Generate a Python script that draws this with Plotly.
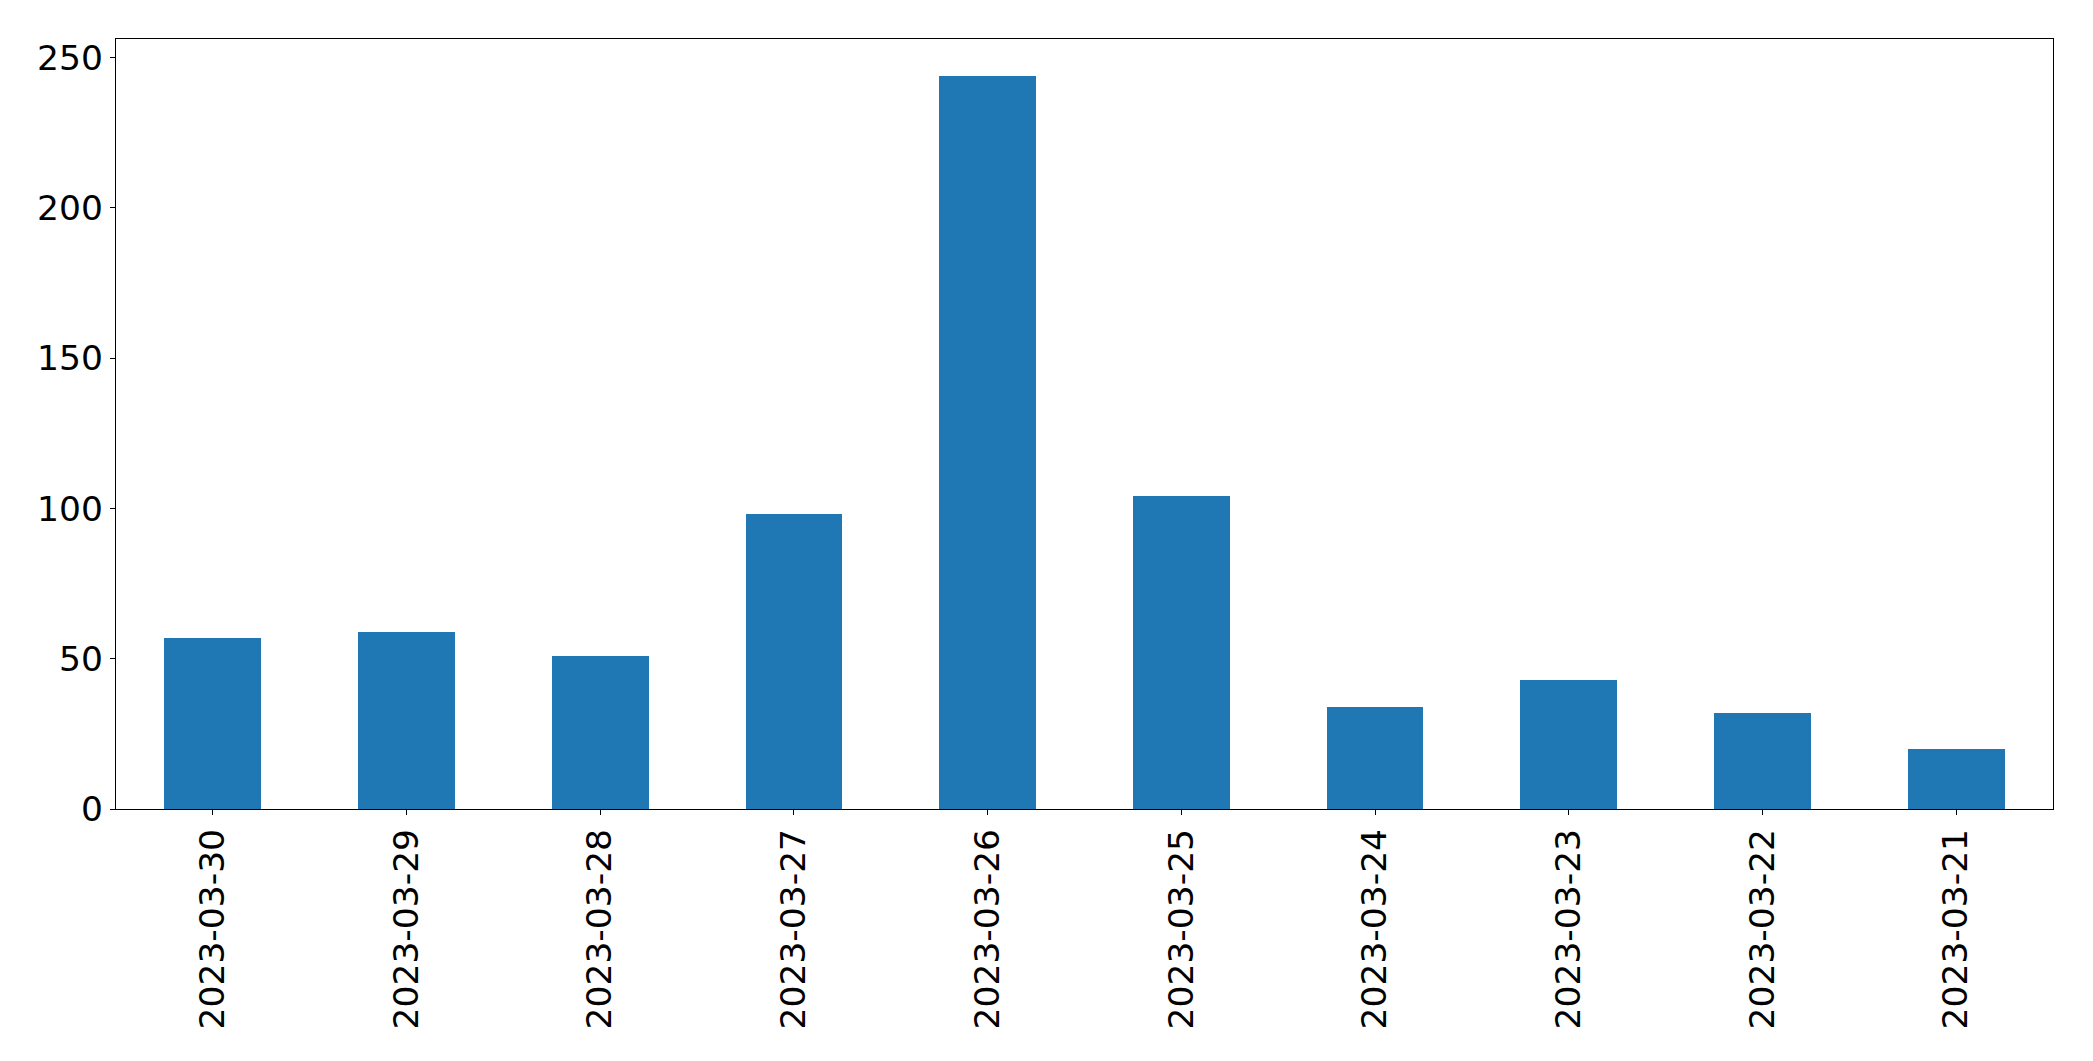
import plotly.graph_objects as go

dates = ["2023-03-30", "2023-03-29", "2023-03-28", "2023-03-27", "2023-03-26",
         "2023-03-25", "2023-03-24", "2023-03-23", "2023-03-22", "2023-03-21"]
counts = [57, 59, 51, 98, 244, 104, 34, 43, 32, 20]
y_ticks = [0, 50, 100, 150, 200, 250]

fig = go.Figure(go.Bar(x=dates, y=counts, width=0.5, marker=dict(color="#1f77b4", line=dict(width=0))))

# page body has an 8px default margin, so the margins are shifted to compensate
fig.update_layout(
    width=2093, height=1061,
    margin=dict(l=108, r=48, t=31, b=260, autoexpand=False),
    paper_bgcolor="white", plot_bgcolor="white",
    font=dict(family="DejaVu Sans", size=34.5, color="black"),
    showlegend=False,
    bargap=0,
)
fig.update_xaxes(
    type="category", range=[-0.5, 9.5], automargin=False,
    showline=True, linecolor="black", linewidth=1.3, mirror=True,
    ticks="outside", ticklen=5, tickwidth=1.3, tickcolor="black",
    tickangle=-90, showgrid=False, zeroline=False,
)
fig.update_yaxes(
    range=[0, 256.2], tickvals=y_ticks, automargin=False,
    showline=True, linecolor="black", linewidth=1.3, mirror=True,
    ticks="outside", ticklen=5, tickwidth=1.3, tickcolor="black",
    showgrid=False, zeroline=False,
)
fig.write_html("out.html")
